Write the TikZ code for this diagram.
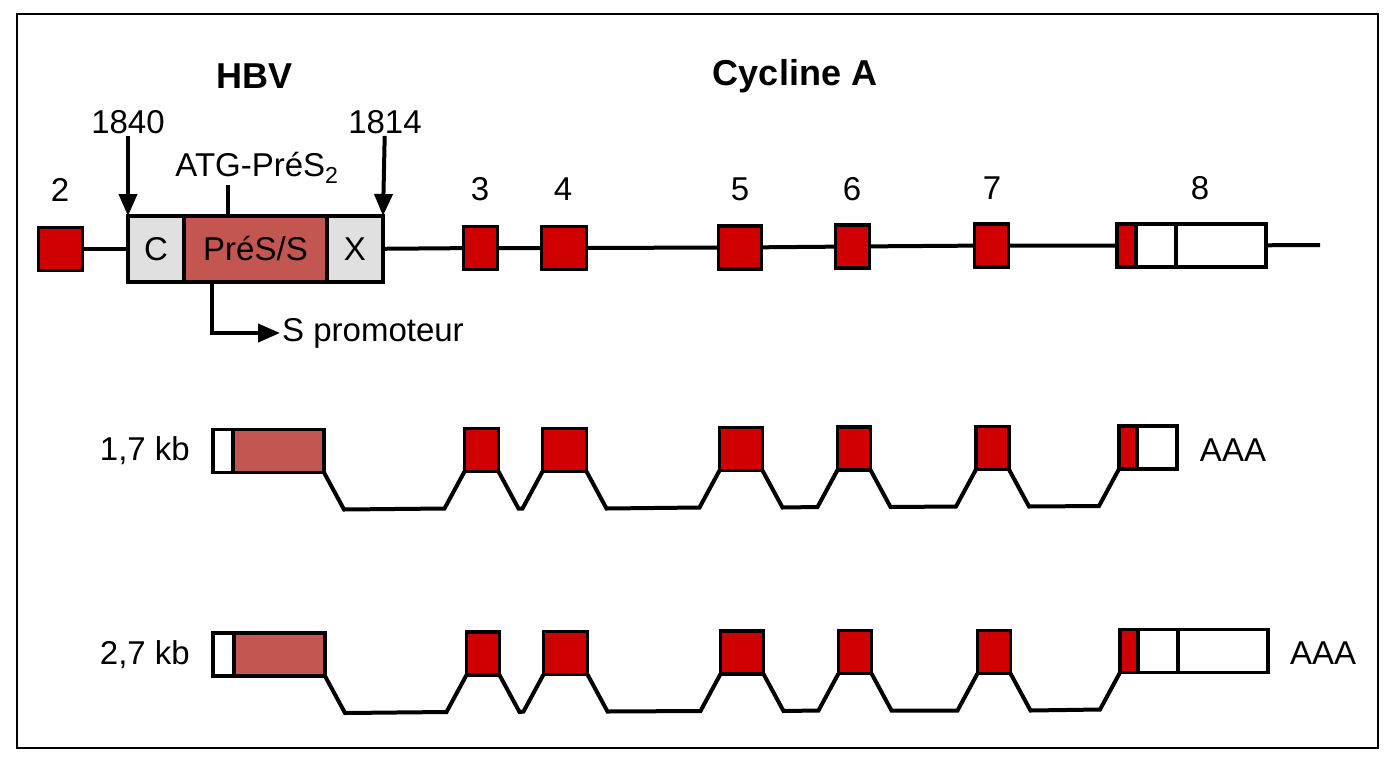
\documentclass[tikz,border=0pt]{standalone}
\usepackage{fontspec}
\setmainfont{Liberation Sans}
\usetikzlibrary{arrows.meta,positioning}

\definecolor{exonred}{RGB}{208,0,0}
\definecolor{presred}{RGB}{196,86,82}
\definecolor{hbvgray}{RGB}{224,224,224}

\tikzset{
  gene/.style={line width=4pt},
  exon/.style={draw, line width=3.6pt, fill=exonred, inner sep=0pt, outer sep=0pt, minimum height=43pt},
  utr/.style={exon, fill=white},
  hbvbox/.style={draw, line width=3.6pt, fill=hbvgray, inner sep=0pt, outer sep=0pt, minimum height=66pt},
  presbox/.style={hbvbox, fill=presred},
  title/.style={font=\fontsize{36}{43}\selectfont\bfseries},
  pinarrow/.style={gene, -{Triangle[length=22pt,width=18pt]}},
  intron/.style={to path={-- ([xshift=20pt,yshift=-37pt]\tikztostart)
      -- ([xshift=-20pt,yshift=-37pt]\tikztotarget) -- (\tikztotarget)}}
}

\begin{document}
\begin{tikzpicture}[x=1pt, y=-1pt, font=\fontsize{33}{39}\selectfont, inner sep=2pt]
    \useasboundingbox (0,0) rectangle (1400,761);
    \draw[line width=2.2pt] (17,14) rectangle (1378,748);

    % titres
    \node[title] (hbv) at (255,76) {HBV};
    \node[title] (cyc) at (795,76) {Cycline A};

    % gène avec insertion HBV
    \node[exon, minimum width=44pt] (t2) at (60.5,249) {};
    \node[hbvbox, minimum width=56pt] (tc) at (156,249) {C};
    \node[presbox, minimum width=143pt, right=0pt of tc] (tpres) {PréS/S};
    \node[hbvbox, minimum width=56pt, right=0pt of tpres] (tx) {X};
    \node[exon, minimum width=34pt] (t3) at (480.5,248) {};
    \node[exon, minimum width=45pt] (t4) at (564,248) {};
    \node[exon, minimum width=43pt] (t5) at (740,247.5) {};
    \node[exon, minimum width=34pt] (t6) at (852.5,246.5) {};
    \node[exon, minimum width=34pt] (t7) at (991.5,245.5) {};
    \node[exon, minimum width=19pt] (t8a) at (1126.5,245.5) {};
    \node[utr, minimum width=40pt, right=0pt of t8a] (t8b) {};
    \node[utr, minimum width=90pt, right=0pt of t8b] (t8c) {};
    \coordinate (tend) at (1320,245);
    \draw[gene] (t2) -- (tc);
    \draw[gene] (tx) -- (t3) -- (t4) -- (t5) -- (t6) -- (t7) -- (t8a);
    \draw[gene] (t8c) -- (tend);

    % numéros d'exons
    \node (n2) at (60,190) {2};
    \node (n3) at (480,189) {3};
    \node (n4) at (563,189) {4};
    \node (n5) at (740,189) {5};
    \node (n6) at (852,189) {6};
    \node (n7) at (992,188) {7};
    \node (n8) at (1200,188) {8};

    % points d'insertion
    \node (n1840) at (128,122) {1840};
    \node (n1814) at (385,122) {1814};
    \draw[pinarrow] (n1840) -- (tc.north west);
    \draw[pinarrow] (n1814) -- (tx.north east);
    \node (atg) at (257,168) {ATG-PréS\textsubscript{2}};
    \draw[gene] ([xshift=44pt]tpres.north west) -- ([xshift=44pt,yshift=31pt]tpres.north west);
    \node[anchor=west] (spro) at (280,333) {S promoteur};
    \draw[pinarrow] ([xshift=28pt]tpres.south west) |- (spro.west);

    % transcrit 1,7 kb
    \node[anchor=east] (l17) at (192,451) {1,7 kb};
    \node[utr, minimum width=20pt] (m1u) at (223,451) {};
    \node[presbox, minimum width=91pt, minimum height=43pt, right=0pt of m1u] (m1p) {};
    \node[exon, minimum width=34pt] (m3) at (481.5,450) {};
    \node[exon, minimum width=44pt] (m4) at (564.5,450) {};
    \node[exon, minimum width=43pt] (m5) at (741,449) {};
    \node[exon, minimum width=33pt] (m6) at (854,448.5) {};
    \node[exon, minimum width=33pt] (m7) at (992.5,448) {};
    \node[exon, minimum width=18pt] (m8a) at (1128,447.5) {};
    \node[utr, minimum width=40pt, right=0pt of m8a] (m8b) {};
    \node (aaa1) at (1233,450) {AAA};
    \draw[gene] (m1p.south east) to[intron] (m3.south west);
    \draw[gene] (m3.south east) to[intron] (m4.south west);
    \draw[gene] (m4.south east) to[intron] (m5.south west);
    \draw[gene] (m5.south east) to[intron] (m6.south west);
    \draw[gene] (m6.south east) to[intron] (m7.south west);
    \draw[gene] (m7.south east) to[intron] (m8a.south west);

    % transcrit 2,7 kb
    \node[anchor=east] (l27) at (192,655) {2,7 kb};
    \node[utr, minimum width=21pt] (b1u) at (223.5,654.5) {};
    \node[presbox, minimum width=91pt, minimum height=43pt, right=0pt of b1u] (b1p) {};
    \node[exon, minimum width=33pt] (b3) at (483,653.5) {};
    \node[exon, minimum width=44pt] (b4) at (565.5,653) {};
    \node[exon, minimum width=43pt] (b5) at (742,652.5) {};
    \node[exon, minimum width=33pt] (b6) at (855,652) {};
    \node[exon, minimum width=33pt] (b7) at (994,652) {};
    \node[exon, minimum width=18pt] (b8a) at (1129,651) {};
    \node[utr, minimum width=40pt, right=0pt of b8a] (b8b) {};
    \node[utr, minimum width=90pt, right=0pt of b8b] (b8c) {};
    \node (aaa2) at (1323,653) {AAA};
    \draw[gene] (b1p.south east) to[intron] (b3.south west);
    \draw[gene] (b3.south east) to[intron] (b4.south west);
    \draw[gene] (b4.south east) to[intron] (b5.south west);
    \draw[gene] (b5.south east) to[intron] (b6.south west);
    \draw[gene] (b6.south east) to[intron] (b7.south west);
    \draw[gene] (b7.south east) to[intron] (b8a.south west);
\end{tikzpicture}
\end{document}
